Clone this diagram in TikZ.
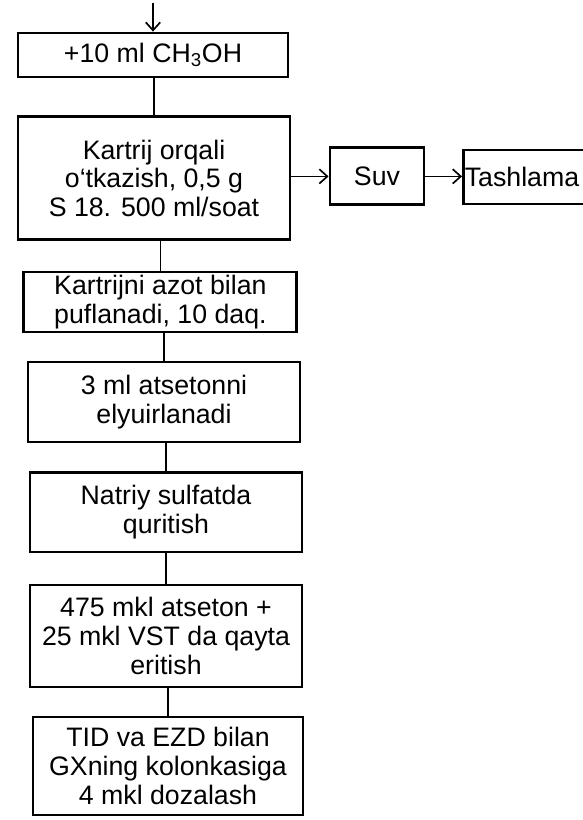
\documentclass[tikz,border=0pt]{standalone}
\usepackage{fontspec}
\setmainfont{Liberation Sans}
\usetikzlibrary{arrows.meta}

\begin{document}
\begin{tikzpicture}[>={Straight Barb[length=2mm, width=3.6mm]}, line width=1.2pt,
    font=\fontsize{19}{20.5}\selectfont,
    blk/.style={draw, line width=2pt, align=center, inner sep=2pt, minimum width=6.8cm}]
  \useasboundingbox (0,0) rectangle (14.55,-20.5);
  \coordinate (top) at (3.825,-0.075);
  \node[blk, minimum width=6.75cm, minimum height=1.1cm] (ch) at (3.825,-1.375) {+10 ml CH\textsubscript{3}OH};
  \node[blk, minimum height=3.075cm] (kart) at (3.85,-4.46) {Kartrij orqali\\o‘tkazish, 0,5 g\\S 18. 500 ml/soat};
  \node[blk, minimum width=2.35cm, minimum height=1.425cm] (suv) at (9.425,-4.41) {Suv};
  \node[blk, anchor=west, minimum width=3.4cm, minimum height=1.35cm, inner xsep=1pt] (tash) at (11.55,-4.425) {Tashlama\hspace*{7mm}};
  \node[blk, minimum width=6.825cm, minimum height=1.5cm] (azot) at (4.01,-7.55) {Kartrijni azot bilan\\puflanadi, 10 daq.};
  \node[blk, minimum height=2cm] (aset) at (4.1,-10.05) {3 ml atsetonni\\elyuirlanadi};
  \node[blk, minimum height=1.975cm] (natr) at (4.15,-12.81) {Natriy sulfatda\\quritish};
  \node[blk, minimum height=2.55cm] (erit) at (4.15,-15.9) {475 mkl atseton +\\25 mkl VST da qayta\\eritish};
  \node[blk, minimum width=6.75cm, minimum height=2.45cm] (doza) at (4.2,-19.15) {TID va EZD bilan\\GXning kolonkasiga\\4 mkl dozalash};
  \draw[->] (top) -- (ch.north);
  \draw (ch.south) -- (ch.south -| kart) -- (kart.north);
  \draw (azot.north) -- (azot.north |- kart.south);
  \draw (aset.north) -- (aset.north |- azot.south);
  \draw (natr.north) -- (natr.north |- aset.south);
  \draw (erit.north) -- (erit.north |- natr.south);
  \draw (doza.north) -- (doza.north |- erit.south);
  \draw[->] (kart.east |- suv.west) -- (suv.west);
  \draw[->] (suv.east) -- (suv.east -| tash.west);
\end{tikzpicture}
\end{document}
